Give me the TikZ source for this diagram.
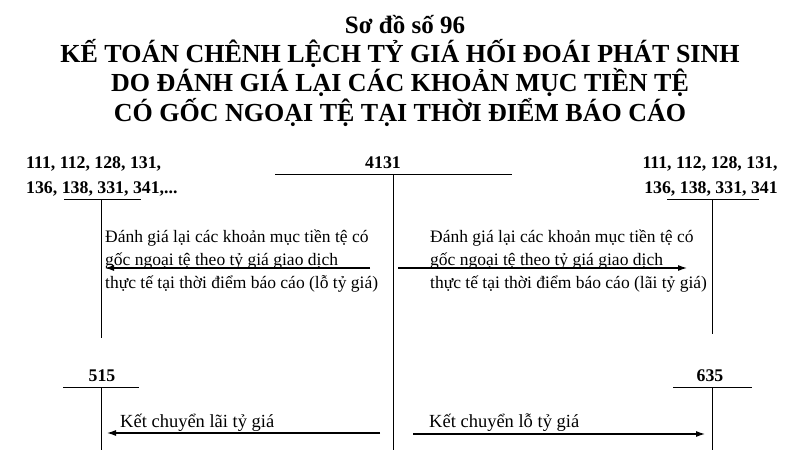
\documentclass[tikz,border=0pt]{standalone}
\usepackage{fontspec}
\setmainfont{Liberation Serif}
\usetikzlibrary{positioning,arrows.meta}

\tikzset{
    heading/.style={font=\bfseries\fontsize{26}{30}\selectfont, inner sep=0pt, anchor=base},
    acct/.style={font=\bfseries\fontsize{17.8}{20}\selectfont, inner sep=0pt, anchor=base},
    note/.style={font=\fontsize{17.5}{23}\selectfont, inner sep=0pt, align=left, anchor=base west},
    tline/.style={line width=0.9pt},
    flow/.style={-{Latex[length=9pt,width=6pt]}, line width=1.1pt}
}

\begin{document}
\begin{tikzpicture}[x=1pt,y=-1pt]
    \useasboundingbox (0,0) rectangle (800,450);

    % title
    \node[heading, font=\bfseries\fontsize{25}{28}\selectfont] (num) at (405,33) {Sơ đồ số 96};
    \node[heading] (hd1) at (400,62)  {KẾ TOÁN CHÊNH LỆCH TỶ GIÁ HỐI ĐOÁI PHÁT SINH};
    \node[heading] (hd2) at (400,91)  {DO ĐÁNH GIÁ LẠI CÁC KHOẢN MỤC TIỀN TỆ};
    \node[heading] (hd3) at (400,121) {CÓ GỐC NGOẠI TỆ TẠI THỜI ĐIỂM BÁO CÁO};

    % T-accounts
    \node[acct, anchor=base west] (cashA) at (26,168) {111, 112, 128, 131,};
    \node[acct, anchor=base west] (cashB) at (26,193) {136, 138, 331, 341,...};
    \draw[tline] (64,199) -- (141,199);
    \draw[tline] (101,199) -- (101,338);

    \node[acct] (fx) at (383,168) {4131};
    \draw[tline] (275,174) -- (512,174);
    \draw[tline] (393,174) -- (393,450);

    \node[acct] (cashC) at (710,168) {111, 112, 128, 131,};
    \node[acct] (cashD) at (711,193) {136, 138, 331, 341};
    \draw[tline] (667,199) -- (759,199);
    \draw[tline] (712,199) -- (712,334);

    \node[acct] (inc) at (102,381) {515};
    \draw[tline] (63,387) -- (139,387);
    \draw[tline] (101,387) -- (101,450);

    \node[acct] (exp) at (710,381) {635};
    \draw[tline] (673,387) -- (752,387);
    \draw[tline] (712,387) -- (712,450);

    % revaluation
    \node[note] (lossTxt) at (105,288) {Đánh giá lại các khoản mục tiền tệ có\\gốc ngoại tệ theo tỷ giá giao dịch\\thực tế tại thời điểm báo cáo (lỗ tỷ giá)};
    \node[note] (gainTxt) at (430,288) {Đánh giá lại các khoản mục tiền tệ có\\gốc ngoại tệ theo tỷ giá giao dịch\\thực tế tại thời điểm báo cáo (lãi tỷ giá)};
    \coordinate (lossS) at (370,268);
    \coordinate (lossE) at (105,268);
    \coordinate (gainS) at (398,268);
    \coordinate (gainE) at (687,268);
    \draw[flow] (lossS) -- (lossE);
    \draw[flow] (gainS) -- (gainE);

    % closing
    \node[note, font=\fontsize{18.5}{22}\selectfont] (incTxt) at (120,427) {Kết chuyển lãi tỷ giá};
    \node[note, font=\fontsize{18.5}{22}\selectfont] (expTxt) at (429,427) {Kết chuyển lỗ tỷ giá};
    \coordinate (incS) at (380,433);
    \coordinate (incE) at (107,433);
    \coordinate (expS) at (413,434);
    \coordinate (expE) at (705,434);
    \draw[flow] (incS) -- (incE);
    \draw[flow] (expS) -- (expE);

\end{tikzpicture}
\end{document}
